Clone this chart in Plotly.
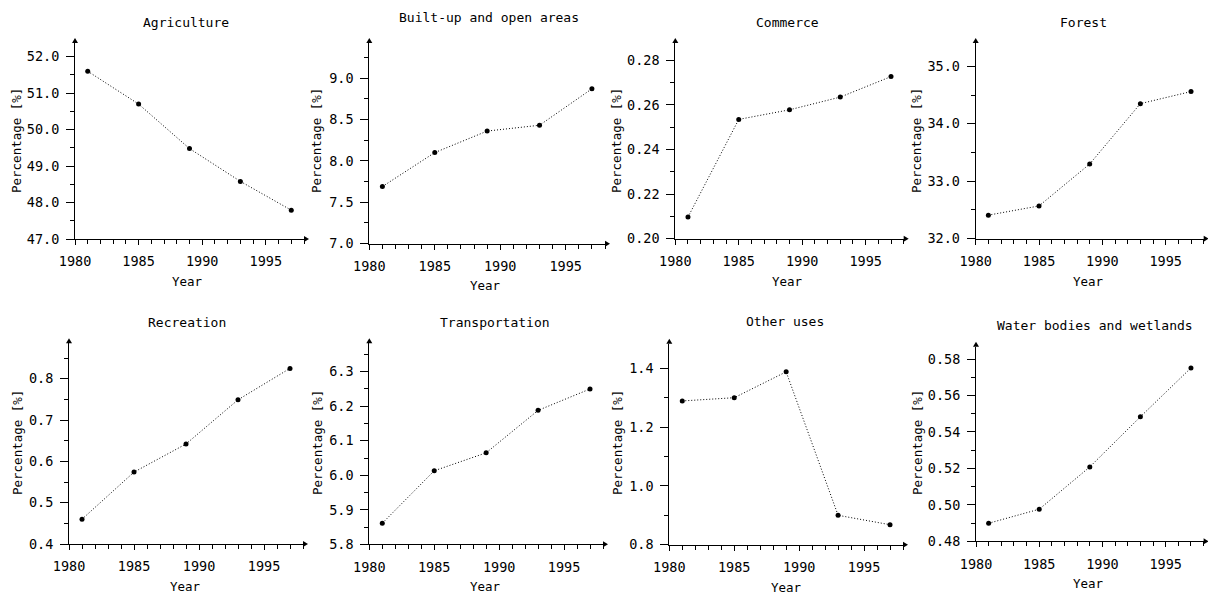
import plotly.graph_objects as go

# Land use shares, surveyed every four years
years = [1981, 1985, 1989, 1993, 1997]

agriculture = [51.60, 50.70, 49.48, 48.58, 47.79]
built_up = [7.69, 8.10, 8.36, 8.43, 8.87]
commerce = [0.2097, 0.2535, 0.2578, 0.2635, 0.2727]
forest = [32.41, 32.57, 33.30, 34.35, 34.56]
recreation = [0.460, 0.574, 0.642, 0.749, 0.825]
transportation = [5.861, 6.013, 6.065, 6.188, 6.250]
other_uses = [1.289, 1.300, 1.388, 0.900, 0.868]
water = [0.4899, 0.4976, 0.5208, 0.5483, 0.5751]

titles = ["Agriculture", "Built-up and open areas", "Commerce", "Forest",
          "Recreation", "Transportation", "Other uses", "Water bodies and wetlands"]
series = [agriculture, built_up, commerce, forest,
          recreation, transportation, other_uses, water]

# y-axis settings per panel: (range, major step, minor step, format)
y_axes = [
    ([47.0, 52.375], 1.0, 0.5, ".1f"),
    ([7.0, 9.423], 0.5, 0.25, ".1f"),
    ([0.20, 0.28776], 0.02, 0.01, ".2f"),
    ([32.0, 35.405], 1.0, 0.5, ".1f"),
    ([0.4, 0.8857], 0.1, 0.05, ".1f"),
    ([5.8, 6.3823], 0.1, 0.05, ".1f"),
    ([0.8, 1.4837], 0.2, 0.1, ".1f"),
    ([0.48, 0.58675], 0.02, 0.01, ".2f"),
]
x_range = [1980, 1998]

W, H = 1208, 594
FONT = "DejaVu Sans Mono"

# panel boxes in pixels: left, right, top, bottom
boxes = [
    (75.0, 304.0, 43, 239.0),
    (369.3, 605.0, 43, 243.7),
    (675.3, 903.7, 43, 238.7),
    (975.7, 1203.7, 43, 238.7),
    (69.0, 303.0, 343.3, 544.0),
    (369.3, 603.0, 343.3, 544.3),
    (669.3, 903.0, 343.7, 544.7),
    (976.0, 1203.6, 346.7, 541.3),
]
# title / axis label positions in pixels
title_pos = [(186, 23), (489, 17), (787, 23), (1083, 23),
             (187, 322), (495, 322), (785, 321), (1095, 325)]
xlabel_pos = [(187, 281), (485, 286), (787, 281), (1088, 281),
              (185, 586), (485, 586), (786, 587), (1088, 583)]
ylabel_pos = [(17, 141), (317, 141), (617, 141), (917, 141),
              (17, 443), (317, 443), (617, 443), (917, 443)]

fig = go.Figure()
layout = dict(
    width=W, height=H, margin=dict(l=0, r=0, t=0, b=0, autoexpand=False),
    plot_bgcolor="white", paper_bgcolor="white", showlegend=False,
    font=dict(family=FONT, color="black", size=13),
)
annotations = []
shapes = []

for i, (title, vals) in enumerate(zip(titles, series)):
    n = "" if i == 0 else str(i + 1)
    fig.add_trace(go.Scatter(
        x=years, y=vals, mode="lines+markers",
        line=dict(color="black", width=1, dash="1px,2px"),
        marker=dict(color="black", size=5),
        xaxis="x" + n, yaxis="y" + n, cliponaxis=False,
    ))
    l, r, t, b = boxes[i]
    yr, ydt, ymin, yfmt = y_axes[i]
    layout["xaxis" + n] = dict(
        domain=[l / W, r / W], anchor="y" + n, range=x_range, automargin=False,
        showline=True, linecolor="black", linewidth=1,
        showgrid=False, zeroline=False,
        ticks="outside", ticklen=5, tickcolor="black", dtick=5, tick0=1980,
        ticklabelstandoff=5,
        minor=dict(ticks="outside", ticklen=4, tickcolor="black", dtick=1, showgrid=False),
        tickfont=dict(family=FONT, size=13.5), fixedrange=True,
    )
    layout["yaxis" + n] = dict(
        domain=[1 - b / H, 1 - t / H], anchor="x" + n, range=yr, automargin=False,
        showline=True, linecolor="black", linewidth=1,
        showgrid=False, zeroline=False,
        ticks="outside", ticklen=8, tickcolor="black", dtick=ydt, tick0=yr[0],
        tickformat=yfmt, ticklabelstandoff=4,
        minor=dict(ticks="outside", ticklen=4, tickcolor="black", dtick=ymin, showgrid=False),
        tickfont=dict(family=FONT, size=13.5), fixedrange=True,
    )
    # arrow heads at the ends of both axes (paper-referenced so they are not clipped)
    shapes.append(dict(
        type="path", xref="paper", yref="paper",
        xsizemode="pixel", ysizemode="pixel",
        xanchor=r / W, yanchor=1 - b / H,
        path="M0,-3 L5,0 L0,3 Z", fillcolor="black", line=dict(width=0),
    ))
    shapes.append(dict(
        type="path", xref="paper", yref="paper",
        xsizemode="pixel", ysizemode="pixel",
        xanchor=l / W, yanchor=1 - t / H,
        path="M-3,0 L0,5 L3,0 Z", fillcolor="black", line=dict(width=0),
    ))
    tx, ty = title_pos[i]
    annotations.append(dict(text=title, x=tx / W, y=1 - ty / H, xref="paper", yref="paper",
                            showarrow=False, xanchor="center", yanchor="middle",
                            font=dict(family=FONT, size=13)))
    xx, xy = xlabel_pos[i]
    annotations.append(dict(text="Year", x=xx / W, y=1 - xy / H, xref="paper", yref="paper",
                            showarrow=False, xanchor="center", yanchor="middle",
                            font=dict(family=FONT, size=12.5)))
    lx, ly = ylabel_pos[i]
    annotations.append(dict(text="Percentage [%]", x=lx / W, y=1 - ly / H, xref="paper", yref="paper",
                            showarrow=False, xanchor="center", yanchor="middle", textangle=-90,
                            font=dict(family=FONT, size=12.5)))

layout["annotations"] = annotations
layout["shapes"] = shapes
fig.update_layout(**layout)
fig.write_html("out.html")
